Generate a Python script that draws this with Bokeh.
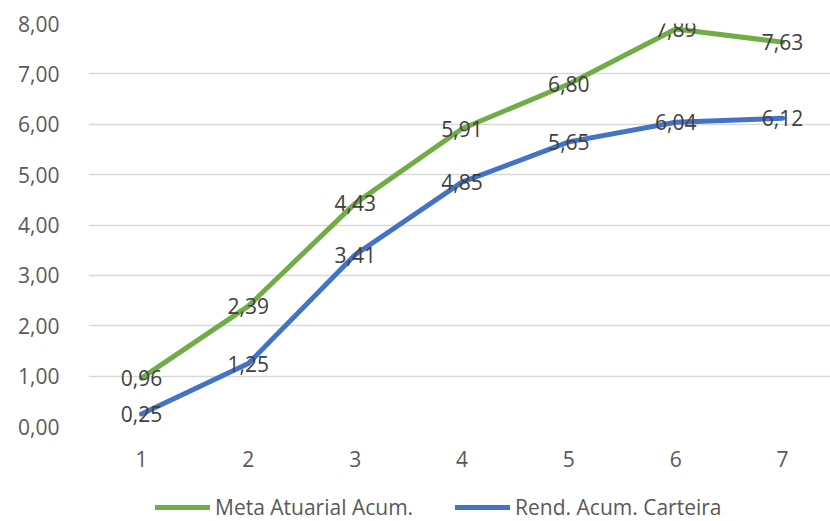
from bokeh.plotting import figure
from bokeh.layouts import column
from bokeh.models import ColumnDataSource, Legend, LegendItem, CustomJSTickFormatter, FixedTicker, Range1d
from bokeh.core.properties import value
from bokeh.embed import file_html
from bokeh.resources import INLINE

periods = [1, 2, 3, 4, 5, 6, 7]
meta_atuarial = [0.96, 2.39, 4.43, 5.91, 6.80, 7.89, 7.63]
rend_carteira = [0.25, 1.25, 3.41, 4.85, 5.65, 6.04, 6.12]
series_names = ["Meta Atuarial Acum.", "Rend. Acum. Carteira"]
y_ticks = [0, 1, 2, 3, 4, 5, 6, 7, 8]

GREEN = "#70AD47"
BLUE = "#4472C4"
FONT = "Open Sans"

def fmt(v):
    return f"{v:.2f}".replace(".", ",")

p = figure(width=830, height=475, output_backend="svg", toolbar_location=None,
           x_range=Range1d(0.504, 7.449), y_range=Range1d(0, 8),
           min_border_left=88, min_border_right=0, min_border_top=23, min_border_bottom=49)
p.outline_line_color = None
p.background_fill_color = "white"
p.border_fill_color = "white"

src_g = ColumnDataSource(dict(x=periods, y=meta_atuarial, lbl=[fmt(v) for v in meta_atuarial]))
src_b = ColumnDataSource(dict(x=periods, y=rend_carteira, lbl=[fmt(v) for v in rend_carteira]))

p.line("x", "y", source=src_g, line_color=GREEN, line_width=5, line_join="round", line_cap="round")
p.line("x", "y", source=src_b, line_color=BLUE, line_width=5, line_join="round", line_cap="round")

for src in (src_g, src_b):
    p.text("x", "y", text="lbl", source=src, text_align="center", text_baseline="middle",
           text_font=value(FONT), text_font_size="21px", text_color="#404040")

# axes
p.yaxis.ticker = FixedTicker(ticks=y_ticks)
p.yaxis.formatter = CustomJSTickFormatter(code="return tick.toFixed(2).replace('.', ',');")
p.yaxis.axis_line_color = None
p.yaxis.major_tick_line_color = None
p.yaxis.minor_tick_line_color = None
p.yaxis.major_label_standoff = 23
p.yaxis.major_label_text_font = FONT
p.yaxis.major_label_text_font_size = "21px"
p.yaxis.major_label_text_color = "#595959"

p.xaxis.ticker = FixedTicker(ticks=periods)
p.xaxis.axis_line_color = None
p.xaxis.major_tick_line_color = None
p.xaxis.minor_tick_line_color = None
p.xaxis.major_label_standoff = 18
p.xaxis.major_label_text_font = FONT
p.xaxis.major_label_text_font_size = "21px"
p.xaxis.major_label_text_color = "#595959"

p.xgrid.grid_line_color = None
p.ygrid.ticker = FixedTicker(ticks=y_ticks)
p.ygrid.grid_line_color = "#d9d9d9"
p.ygrid.grid_line_width = 1.5

# legend strip below the chart
lf = figure(width=830, height=46, output_backend="svg", toolbar_location=None,
            x_range=Range1d(0, 1), y_range=Range1d(0, 1),
            min_border_left=0, min_border_right=0, min_border_top=0, min_border_bottom=0)
lf.axis.visible = False
lf.grid.visible = False
lf.outline_line_color = None
nan = float("nan")
lg_g = lf.line(x=[nan], y=[nan], line_color=GREEN, line_width=5, line_cap="round")
lg_b = lf.line(x=[nan], y=[nan], line_color=BLUE, line_width=5, line_cap="round")
legend = Legend(items=[LegendItem(label=series_names[0], renderers=[lg_g]),
                       LegendItem(label=series_names[1], renderers=[lg_b])],
                orientation="horizontal", location=(67, 0),
                label_text_font=FONT, label_text_font_size="21px", label_text_color="#595959",
                glyph_width=55, glyph_height=28, label_height=28, label_standoff=5, spacing=42,
                border_line_color=None, background_fill_alpha=0, margin=0, padding=0)
lf.add_layout(legend, "center")

layout = column(p, lf, spacing=0)
open("out.html", "w").write(file_html(layout, INLINE))
